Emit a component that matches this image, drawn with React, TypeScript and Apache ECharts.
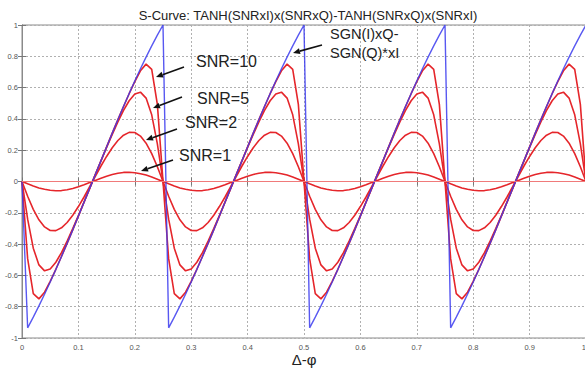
import React, { useEffect, useRef } from "react";
import * as echarts from "echarts";

// Sampling step of the phase axis (x = index * STEP, 0 .. 1)
const STEP = 0.01;

// SGN(I)xQ - SGN(Q)xI  (blue)
const SGN_CURVE = [
  0, -0.935, -0.867, -0.795, -0.72, -0.642, -0.562, -0.479, -0.395, -0.309, -0.221, -0.133, -0.044, 0.044, 0.133, 0.221, 0.309, 0.395, 0.479, 0.562, 0.642, 0.72, 0.795, 0.867, 0.935,
  1, -0.935, -0.867, -0.795, -0.72, -0.642, -0.562, -0.479, -0.395, -0.309, -0.221, -0.133, -0.044, 0.044, 0.133, 0.221, 0.309, 0.395, 0.479, 0.562, 0.642, 0.72, 0.795, 0.867, 0.935,
  1, -0.935, -0.867, -0.795, -0.72, -0.642, -0.562, -0.479, -0.395, -0.309, -0.221, -0.133, -0.044, 0.044, 0.133, 0.221, 0.309, 0.395, 0.479, 0.562, 0.642, 0.72, 0.795, 0.867, 0.935,
  1, -0.935, -0.867, -0.795, -0.72, -0.642, -0.562, -0.479, -0.395, -0.309, -0.221, -0.133, -0.044, 0.044, 0.133, 0.221, 0.309, 0.395, 0.479, 0.562, 0.642, 0.72, 0.795, 0.867, 0.935,
  1,
];

const SNR10 = [
  0, -0.493, -0.717, -0.75, -0.707, -0.638, -0.561, -0.479, -0.395, -0.309, -0.221, -0.133, -0.044, 0.044, 0.133, 0.221, 0.309, 0.395, 0.479, 0.561, 0.638, 0.707, 0.75, 0.717, 0.493,
  0, -0.493, -0.717, -0.75, -0.707, -0.638, -0.561, -0.479, -0.395, -0.309, -0.221, -0.133, -0.044, 0.044, 0.133, 0.221, 0.309, 0.395, 0.479, 0.561, 0.638, 0.707, 0.75, 0.717, 0.493,
  0, -0.493, -0.717, -0.75, -0.707, -0.638, -0.561, -0.479, -0.395, -0.309, -0.221, -0.133, -0.044, 0.044, 0.133, 0.221, 0.309, 0.395, 0.479, 0.561, 0.638, 0.707, 0.75, 0.717, 0.493,
  0, -0.493, -0.717, -0.75, -0.707, -0.638, -0.561, -0.479, -0.395, -0.309, -0.221, -0.133, -0.044, 0.044, 0.133, 0.221, 0.309, 0.395, 0.479, 0.561, 0.638, 0.707, 0.75, 0.717, 0.493,
  0,
];

const SNR5 = [
  0, -0.241, -0.426, -0.533, -0.571, -0.559, -0.516, -0.454, -0.381, -0.301, -0.217, -0.131, -0.044, 0.044, 0.131, 0.217, 0.301, 0.381, 0.454, 0.516, 0.559, 0.571, 0.533, 0.426, 0.241,
  0, -0.241, -0.426, -0.533, -0.571, -0.559, -0.516, -0.454, -0.381, -0.301, -0.217, -0.131, -0.044, 0.044, 0.131, 0.217, 0.301, 0.381, 0.454, 0.516, 0.559, 0.571, 0.533, 0.426, 0.241,
  0, -0.241, -0.426, -0.533, -0.571, -0.559, -0.516, -0.454, -0.381, -0.301, -0.217, -0.131, -0.044, 0.044, 0.131, 0.217, 0.301, 0.381, 0.454, 0.516, 0.559, 0.571, 0.533, 0.426, 0.241,
  0, -0.241, -0.426, -0.533, -0.571, -0.559, -0.516, -0.454, -0.381, -0.301, -0.217, -0.131, -0.044, 0.044, 0.131, 0.217, 0.301, 0.381, 0.454, 0.516, 0.559, 0.571, 0.533, 0.426, 0.241,
  0,
];

const SNR2 = [
  0, -0.094, -0.178, -0.245, -0.29, -0.313, -0.314, -0.296, -0.262, -0.216, -0.16, -0.099, -0.033, 0.033, 0.099, 0.16, 0.216, 0.262, 0.296, 0.314, 0.313, 0.29, 0.245, 0.178, 0.094,
  0, -0.094, -0.178, -0.245, -0.29, -0.313, -0.314, -0.296, -0.262, -0.216, -0.16, -0.099, -0.033, 0.033, 0.099, 0.16, 0.216, 0.262, 0.296, 0.314, 0.313, 0.29, 0.245, 0.178, 0.094,
  0, -0.094, -0.178, -0.245, -0.29, -0.313, -0.314, -0.296, -0.262, -0.216, -0.16, -0.099, -0.033, 0.033, 0.099, 0.16, 0.216, 0.262, 0.296, 0.314, 0.313, 0.29, 0.245, 0.178, 0.094,
  0, -0.094, -0.178, -0.245, -0.29, -0.313, -0.314, -0.296, -0.262, -0.216, -0.16, -0.099, -0.033, 0.033, 0.099, 0.16, 0.216, 0.262, 0.296, 0.314, 0.313, 0.29, 0.245, 0.178, 0.094,
  0,
];

const SNR1 = [
  0, -0.015, -0.029, -0.041, -0.05, -0.056, -0.059, -0.058, -0.053, -0.045, -0.034, -0.021, -0.007, 0.007, 0.021, 0.034, 0.045, 0.053, 0.058, 0.059, 0.056, 0.05, 0.041, 0.029, 0.015,
  0, -0.015, -0.029, -0.041, -0.05, -0.056, -0.059, -0.058, -0.053, -0.045, -0.034, -0.021, -0.007, 0.007, 0.021, 0.034, 0.045, 0.053, 0.058, 0.059, 0.056, 0.05, 0.041, 0.029, 0.015,
  0, -0.015, -0.029, -0.041, -0.05, -0.056, -0.059, -0.058, -0.053, -0.045, -0.034, -0.021, -0.007, 0.007, 0.021, 0.034, 0.045, 0.053, 0.058, 0.059, 0.056, 0.05, 0.041, 0.029, 0.015,
  0, -0.015, -0.029, -0.041, -0.05, -0.056, -0.059, -0.058, -0.053, -0.045, -0.034, -0.021, -0.007, 0.007, 0.021, 0.034, 0.045, 0.053, 0.058, 0.059, 0.056, 0.05, 0.041, 0.029, 0.015,
  0,
];

const TITLE = "S-Curve: TANH(SNRxI)x(SNRxQ)-TANH(SNRxQ)x(SNRxI)";
const X_NAME = "Δ-φ";

const RED = "#e5262b";
const BLUE = "#3b3bef";
const FONT = "'Liberation Sans', Arial, Helvetica, sans-serif";

const pairs = (ys: number[]) => ys.map((v, i) => [+(i * STEP).toFixed(2), v]);

function arrow(x1: number, y1: number, x2: number, y2: number) {
  const dx = x2 - x1;
  const dy = y2 - y1;
  const len = Math.sqrt(dx * dx + dy * dy);
  const ux = dx / len;
  const uy = dy / len;
  const hl = 7;
  const hw = 3;
  const cx = x2 - hl * ux;
  const cy = y2 - hl * uy;
  const nx = -uy;
  const ny = ux;
  return [
    {
      type: "line",
      shape: { x1, y1, x2: cx, y2: cy },
      style: { stroke: "#111", lineWidth: 1.6 },
      z: 100,
    },
    {
      type: "polygon",
      shape: {
        points: [
          [x2, y2],
          [cx + hw * nx, cy + hw * ny],
          [cx - hw * nx, cy - hw * ny],
        ],
      },
      style: { fill: "#111" },
      z: 100,
    },
  ];
}

function label(text: string, x: number, y: number, size: number) {
  return {
    type: "text",
    x,
    y,
    z: 100,
    style: {
      text,
      fill: "#222",
      font: `${size}px ${FONT}`,
      textVerticalAlign: "middle",
      verticalAlign: "middle",
    },
  };
}

export default function App() {
  const ref = useRef<HTMLDivElement>(null);

  useEffect(() => {
    if (!ref.current) return;
    const chart = echarts.init(ref.current, undefined, { renderer: "svg" });

    const axisLine = { show: true, lineStyle: { color: "#8a8a8a", width: 1 } };
    const splitLine = {
      show: true,
      lineStyle: { color: "#b0b0b0", type: [2, 2] as any, width: 1 },
    };
    const tick = { show: true, inside: true, length: 4, lineStyle: { color: "#777" } };
    const labelStyle = { fontSize: 7.5, color: "#555", fontFamily: FONT };

    const redSeries = (name: string, data: number[], width = 1.6) => ({
      name,
      type: "line",
      data: pairs(data),
      showSymbol: false,
      symbol: "none",
      lineStyle: { color: RED, width },
      itemStyle: { color: RED },
      z: 3,
    });

    chart.setOption({
      animation: false,
      backgroundColor: "#ffffff",
      title: {
        text: TITLE,
        left: 303,
        top: 4,
        textAlign: "center",
        textStyle: { fontSize: 13, fontWeight: "normal", color: "#222", fontFamily: FONT },
      },
      grid: {
        left: 22,
        top: 25,
        width: 564,
        height: 313,
        show: true,
        borderColor: "#8a8a8a",
        borderWidth: 1,
        containLabel: false,
        outerBoundsMode: "none",
      },
      xAxis: [
        {
          type: "value",
          min: 0,
          max: 1,
          interval: 0.1,
          position: "bottom",
          axisLine,
          axisTick: tick,
          splitLine,
          axisLabel: { ...labelStyle, margin: 5, alignMaxLabel: "right" },
          name: X_NAME,
          nameLocation: "middle",
          nameGap: 14,
          nameMoveOverlap: false,
          nameTextStyle: { fontSize: 15, color: "#222", fontFamily: FONT, verticalAlign: "top" },
        },
        {
          type: "value",
          min: 0,
          max: 1,
          interval: 0.1,
          position: "top",
          axisLine,
          axisTick: tick,
          splitLine: { show: false },
          axisLabel: { show: false },
        },
      ],
      yAxis: [
        {
          type: "value",
          min: -1,
          max: 1,
          interval: 0.2,
          position: "left",
          axisLine,
          axisTick: tick,
          splitLine,
          axisLabel: { ...labelStyle, margin: 4 },
        },
        {
          type: "value",
          min: -1,
          max: 1,
          interval: 0.2,
          position: "right",
          axisLine,
          axisTick: tick,
          splitLine: { show: false },
          axisLabel: { show: false },
        },
      ],
      series: [
        {
          ...redSeries("SNR=1", SNR1),
          markLine: {
            silent: true,
            symbol: "none",
            label: { show: false },
            lineStyle: { color: "#f07a7a", width: 1.2, type: "solid" },
            data: [{ yAxis: 0 }],
          },
        },
        redSeries("SNR=2", SNR2),
        redSeries("SNR=5", SNR5),
        redSeries("SNR=10", SNR10),
        {
          name: "SGN(I)xQ-SGN(Q)*xI",
          type: "line",
          data: pairs(SGN_CURVE),
          showSymbol: false,
          symbol: "none",
          lineStyle: { color: BLUE, width: 1.4, opacity: 0.85 },
          itemStyle: { color: BLUE },
          z: 4,
        },
      ],
      graphic: [
        label("SNR=10", 196, 61, 16),
        label("SNR=5", 197, 98, 16),
        label("SNR=2", 185, 122, 16),
        label("SNR=1", 179, 155, 16),
        label("SGN(I)xQ-", 330, 34, 14.5),
        label("SGN(Q)*xI", 330, 53, 14.5),
        ...arrow(184, 67, 156, 77),
        ...arrow(182, 97, 153, 108),
        ...arrow(177, 129, 146, 140),
        ...arrow(173, 160, 141, 171),
        ...arrow(322, 45, 293, 53),
      ],
    });

    return () => chart.dispose();
  }, []);

  return (
    <div
      ref={ref}
      style={{ position: "fixed", left: 0, top: 0, width: 585, height: 368, background: "#fff" }}
    />
  );
}
